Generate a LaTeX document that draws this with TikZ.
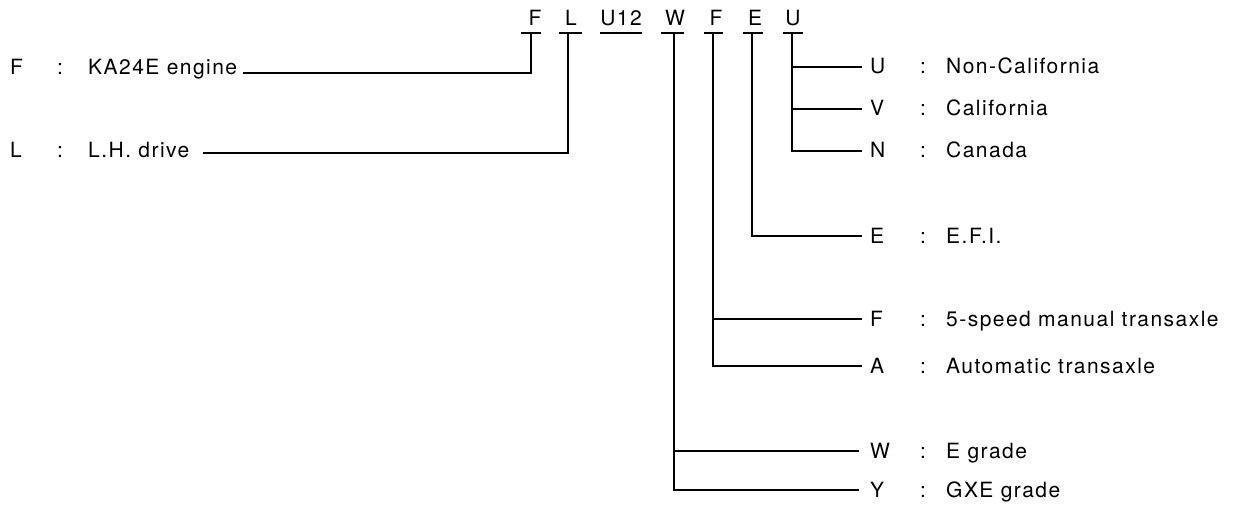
\documentclass[tikz,border=0pt]{standalone}
\usepackage{fontspec}
\setmainfont[LetterSpace=7]{TeX Gyre Heros}
\usetikzlibrary{calc}
\begin{document}
\begin{tikzpicture}[x=1pt,y=-1pt,
  every node/.style={inner sep=0pt,font=\fontsize{21}{25}\selectfont},
  lbl/.style={anchor=base west},
  code/.style={anchor=base},
  wire/.style={line width=1.1pt,line cap=butt}]
\useasboundingbox (0,0) rectangle (1238,505);

% model code letters along the top
\node[code] (cF)  at (535,26) {F};
\node[code] (cL)  at (571,26) {L};
\node[code] (cU12) at (621,26) {U12};
\node[code] (cW)  at (675,26) {W};
\node[code] (cT)  at (716,26) {F};
\node[code] (cE)  at (755,26) {E};
\node[code] (cD)  at (793,26) {U};

% underlines beneath each letter group
\coordinate (uF) at (531,33);
\coordinate (uL) at (568,33);
\coordinate (uW) at (674,33);
\coordinate (uT) at (713,33);
\coordinate (uE) at (752,33);
\coordinate (uD) at (792,33);
\draw[wire] (521,33) -- (541,33);
\draw[wire] (559,33) -- (582,33);
\draw[wire] (600,33) -- (642,33);
\draw[wire] (661,33) -- (684,33);
\draw[wire] (704,33) -- (723,33);
\draw[wire] (743,33) -- (763,33);
\draw[wire] (783,33) -- (803,33);

% left-hand entries
\node[lbl] (kF) at (10,75) {F};
\node[lbl] (pF) at (57,75) {:};
\node[lbl] (dF) at (88,75) {KA24E engine};
\coordinate (eF) at (243,73);

\node[lbl] (kL) at (10,158) {L};
\node[lbl] (pL) at (57,158) {:};
\node[lbl] (dL) at (88,158) {L.H. drive};
\coordinate (eL) at (203,153);

\draw[wire] (uF) |- (eF);
\draw[wire] (uL) |- (eL);

% right-hand entries: line end, key letter, colon, description
\foreach \n/\y/\k/\d/\xe in {
    rU/67/U/Non-California/862,
    rV/109/V/California/862,
    rN/151/N/Canada/862,
    rE/236/E/E.F.I./862,
    rF/319/F/5-speed manual transaxle/862,
    rA/366/A/Automatic transaxle/862,
    rW/451/W/E grade/859,
    rY/490/Y/GXE grade/859} {
  \coordinate (\n) at (\xe,\y);
  \node[lbl] (\n k) at (870,\y+7) {\k};
  \node[lbl] (\n p) at (920,\y+7) {:};
  \node[lbl] (\n d) at (946,\y+7) {\d};
}

% branches from the code letters
\draw[wire] (uD) |- (rU);
\draw[wire] (uD) |- (rV);
\draw[wire] (uD) |- (rN);
\draw[wire] (uE) |- (rE);
\draw[wire] (uT) |- (rF);
\draw[wire] (uT) |- (rA);
\draw[wire] (uW) |- (rW);
\draw[wire] (uW) |- (rY);
\end{tikzpicture}
\end{document}
